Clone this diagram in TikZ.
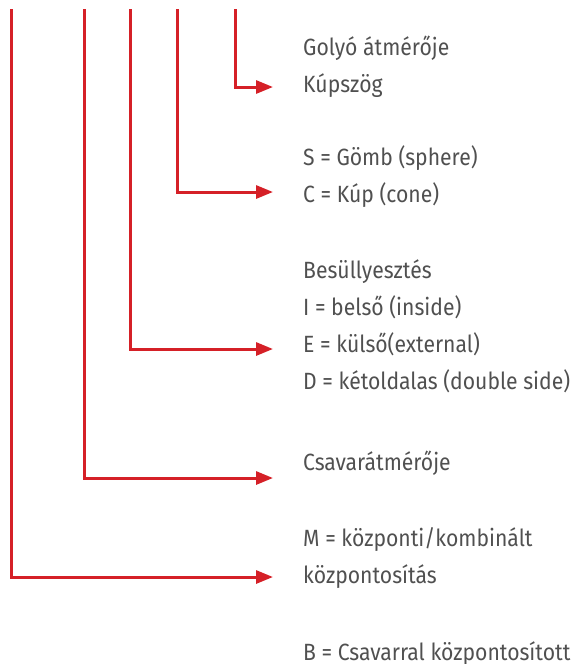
\documentclass[tikz,border=0pt]{standalone}
\usepackage{fontspec}
\setmainfont[FakeStretch=0.9]{Fira Sans}
\usetikzlibrary{arrows.meta,positioning}
\definecolor{codered}{RGB}{213,32,39}
\definecolor{textgrey}{RGB}{80,80,80}

\begin{document}
\begin{tikzpicture}[x=1pt,y=-1pt,
  lbl/.style={anchor=base west,inner sep=0pt,text=textgrey,
              font=\fontsize{23.5}{37}\selectfont},
  arr/.style={-{Triangle[length=17pt,width=13pt]},line width=3pt,codered}]
  \useasboundingbox (0,0) rectangle (574,664);
  % labels
  \node[lbl] (golyo) at (303,55) {Golyó átmérője};
  \node[lbl] (kup) at (303,92) {Kúpszög};
  \node[lbl] (gomb) at (303,165) {S = Gömb (sphere)};
  \node[lbl] (cone) at (303,202) {C = Kúp (cone)};
  \node[lbl] (besully) at (303,278) {Besüllyesztés};
  \node[lbl] (belso) at (303,315) {I = belső (inside)};
  \node[lbl] (kulso) at (303,352) {E = külső(external)};
  \node[lbl] (ketold) at (303,389) {D = kétoldalas (double side)};
  \node[lbl] (csavar) at (303,470) {Csavarátmérője};
  \node[lbl] (kozp) at (303,546) {M = központi/kombinált};
  \node[lbl] (kozpos) at (303,583) {központosítás};
  \node[lbl] (bcsav) at (303,660) {B = Csavarral központosított};
  % line starts and arrow tips
  \coordinate (s1) at (235,9);
  \coordinate (s2) at (177,9);
  \coordinate (s3) at (130,9);
  \coordinate (s4) at (84,9);
  \coordinate (s5) at (11,9);
  \coordinate (e1) at (273,87);
  \coordinate (e2) at (273,192);
  \coordinate (e3) at (273,349);
  \coordinate (e4) at (273,478);
  \coordinate (e5) at (273,577);
  \draw[arr] (s1) |- (e1);
  \draw[arr] (s2) |- (e2);
  \draw[arr] (s3) |- (e3);
  \draw[arr] (s4) |- (e4);
  \draw[arr] (s5) |- (e5);
\end{tikzpicture}
\end{document}
